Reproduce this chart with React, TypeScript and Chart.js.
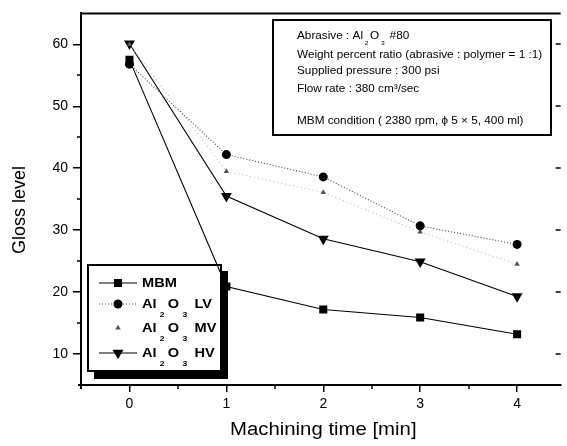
import React, { useEffect, useRef } from "react";
import { Chart, registerables } from "chart.js";

Chart.register(...registerables);

const FAM = '"Liberation Sans", Arial, Helvetica, sans-serif';

// ---- data ----
const times = [0, 1, 2, 3, 4];
const seriesNames = ["MBM", "Al₂O₃ LV", "Al₂O₃ MV", "Al₂O₃ HV"];
const mbm = [57.5, 20.9, 17.2, 15.9, 13.2];
const lv = [56.8, 42.2, 38.6, 30.7, 27.7];
const mv = [60.0, 39.5, 36.1, 29.7, 24.5];
const hv = [60.1, 35.5, 28.6, 24.9, 19.3];

const xTicks = [0, 1, 2, 3, 4];
const xMinorTicks = [0.5, 1.5, 2.5, 3.5];
const yTicks = [10, 20, 30, 40, 50, 60];
const yMinorTicks = [15, 25, 35, 45, 55];

const xTitle = "Machining time [min]";
const yTitle = "Gloss level";
const conditionLines = [
  "Abrasive : Al₂O₃ #80",
  "Weight percent ratio (abrasive : polymer = 1 :1)",
  "Supplied pressure : 300 psi",
  "Flow rate : 380 cm³/sec",
  "",
  "MBM condition ( 2380 rpm, ϕ 5 × 5, 400 ml)",
];

// ---- helpers ----
function drawRich(
  ctx: CanvasRenderingContext2D,
  text: string,
  x: number,
  y: number,
  font: string,
  subFont: string,
  subDy: number,
  subPad: number,
  sx: number
) {
  ctx.save();
  ctx.translate(x, y);
  ctx.scale(sx, 1);
  let cx = 0;
  let run = "";
  const flush = () => {
    if (!run) return;
    ctx.font = font;
    ctx.fillText(run, cx, 0);
    cx += ctx.measureText(run).width;
    run = "";
  };
  for (const ch of text) {
    if (ch === "₂" || ch === "₃") {
      flush();
      const d = ch === "₂" ? "2" : "3";
      ctx.font = subFont;
      cx += subPad;
      ctx.fillText(d, cx, subDy);
      cx += ctx.measureText(d).width + subPad;
    } else {
      run += ch;
    }
  }
  flush();
  ctx.restore();
}

function marker(ctx: CanvasRenderingContext2D, kind: string, x: number, y: number, r: number, color: string) {
  ctx.save();
  ctx.fillStyle = color;
  ctx.beginPath();
  const w = (r * Math.sqrt(3)) / 2;
  if (kind === "rect") {
    const s = r * Math.SQRT1_2;
    ctx.rect(x - s, y - s, 2 * s, 2 * s);
  } else if (kind === "circle") {
    ctx.arc(x, y, r, 0, Math.PI * 2);
  } else if (kind === "triangle") {
    ctx.moveTo(x, y - r);
    ctx.lineTo(x + w, y + r / 2);
    ctx.lineTo(x - w, y + r / 2);
    ctx.closePath();
  } else if (kind === "triangleDown") {
    ctx.moveTo(x, y + r);
    ctx.lineTo(x + w, y - r / 2);
    ctx.lineTo(x - w, y - r / 2);
    ctx.closePath();
  }
  ctx.fill();
  ctx.restore();
}

const styles = [
  { line: "#000", dash: [] as number[], lineShown: true, kind: "rect", r: 5.7, color: "#000" },
  { line: "#444", dash: [1, 2], lineShown: true, kind: "circle", r: 4.5, color: "#000" },
  { line: "#bbb", dash: [1, 3], lineShown: false, kind: "triangle", r: 3.2, color: "#555" },
  { line: "#000", dash: [] as number[], lineShown: true, kind: "triangleDown", r: 6.3, color: "#000" },
];

const decorPlugin = {
  id: "decor",
  beforeDatasetsDraw(chart: any) {
    const ctx: CanvasRenderingContext2D = chart.ctx;
    // legend box with drop shadow
    const bx = 88, by = 265, bw = 133, bh = 106;
    ctx.save();
    ctx.fillStyle = "#000";
    ctx.fillRect(bx + 6, by + 6, bw + 1, bh + 2);
    ctx.fillStyle = "#fff";
    ctx.fillRect(bx, by, bw, bh);
    ctx.strokeStyle = "#000";
    ctx.lineWidth = 2;
    ctx.strokeRect(bx, by, bw, bh);
    const rows = [283, 304, 328, 353];
    seriesNames.forEach((name, i) => {
      const st = styles[i];
      const yy = rows[i];
      if (st.lineShown) {
        ctx.save();
        ctx.strokeStyle = st.line;
        ctx.lineWidth = 1.2;
        ctx.setLineDash(st.dash);
        ctx.beginPath();
        ctx.moveTo(99, yy);
        ctx.lineTo(137, yy);
        ctx.stroke();
        ctx.restore();
      }
      marker(ctx, st.kind, 118, yy, st.r, st.color);
      ctx.fillStyle = "#000";
      ctx.textBaseline = "middle";
      ctx.textAlign = "left";
      drawRich(ctx, name, 142, yy, `bold 13.5px ${FAM}`, `bold 8px ${FAM}`, 11, 3, 1.08);
    });
    ctx.restore();
  },
  afterDatasetsDraw(chart: any) {
    const ctx: CanvasRenderingContext2D = chart.ctx;
    // condition box
    ctx.save();
    ctx.fillStyle = "#fff";
    ctx.fillRect(273, 20, 278, 115);
    ctx.strokeStyle = "#000";
    ctx.lineWidth = 2;
    ctx.strokeRect(273, 20, 278, 115);
    ctx.fillStyle = "#000";
    ctx.textBaseline = "middle";
    ctx.textAlign = "left";
    const ys = [36.5, 55.5, 71.5, 89, 105, 121.5];
    conditionLines.forEach((t, i) => {
      if (t) drawRich(ctx, t, 297, ys[i], `10.5px ${FAM}`, `6px ${FAM}`, 7, 1.5, 1.12);
    });
    ctx.restore();
  },
  afterDraw(chart: any) {
    const ctx: CanvasRenderingContext2D = chart.ctx;
    const a = chart.chartArea;
    const xs = chart.scales.x;
    const ysc = chart.scales.y;
    ctx.save();
    ctx.strokeStyle = "#000";
    // top frame line
    ctx.lineWidth = 2;
    ctx.beginPath();
    ctx.moveTo(a.left - 1, a.top);
    ctx.lineTo(a.right, a.top);
    ctx.stroke();
    // small axis extensions at the lower-left corner
    ctx.beginPath();
    ctx.moveTo(a.left, a.bottom);
    ctx.lineTo(a.left, a.bottom + 4);
    ctx.moveTo(a.left - 3, a.bottom);
    ctx.lineTo(a.left, a.bottom);
    ctx.stroke();
    ctx.lineWidth = 1.5;
    // minor x ticks
    xMinorTicks.forEach((v) => {
      const px = Math.round(xs.getPixelForValue(v));
      ctx.beginPath();
      ctx.moveTo(px, a.bottom);
      ctx.lineTo(px, a.bottom + 4);
      ctx.stroke();
    });
    // minor y ticks
    yMinorTicks.forEach((v) => {
      const py = Math.round(ysc.getPixelForValue(v));
      ctx.beginPath();
      ctx.moveTo(a.left - 4, py);
      ctx.lineTo(a.left, py);
      ctx.stroke();
    });
    // right axis inward ticks
    yTicks.forEach((v) => {
      const py = Math.round(ysc.getPixelForValue(v));
      ctx.beginPath();
      ctx.moveTo(a.right - 5, py);
      ctx.lineTo(a.right, py);
      ctx.stroke();
    });
    // axis titles
    ctx.fillStyle = "#000";
    ctx.font = `18px ${FAM}`;
    ctx.textAlign = "center";
    ctx.textBaseline = "middle";
    ctx.save();
    ctx.translate(xs.getPixelForValue(2), 430);
    ctx.scale(1.13, 1);
    ctx.fillText(xTitle, 0, 0);
    ctx.restore();
    ctx.translate(20, 210);
    ctx.rotate(-Math.PI / 2);
    ctx.fillText(yTitle, 0, 0);
    ctx.restore();
  },
};

export default function App() {
  const ref = useRef<HTMLCanvasElement | null>(null);
  useEffect(() => {
    if (!ref.current) return;
    const values = [mbm, lv, mv, hv];
    const chart = new Chart(ref.current, {
      type: "line",
      data: {
        datasets: values.map((vals, i) => {
          const st = styles[i];
          return {
            label: seriesNames[i],
            data: times.map((t, j) => ({ x: t, y: vals[j] })),
            borderColor: st.line,
            borderWidth: 1.1,
            borderDash: st.dash,
            showLine: true,
            pointStyle: st.kind === "triangleDown" ? "triangle" : st.kind,
            pointRotation: st.kind === "triangleDown" ? 180 : 0,
            pointRadius: st.r,
            pointBackgroundColor: st.color,
            pointBorderColor: st.color,
            pointBorderWidth: 0,
            tension: 0,
            fill: false,
          } as any;
        }),
      },
      options: {
        animation: false,
        responsive: false,
        maintainAspectRatio: false,
        layout: { padding: { top: 10, left: 0, right: 0, bottom: 0 } },
        plugins: { legend: { display: false }, tooltip: { enabled: false } },
        scales: {
          x: {
            type: "linear",
            min: -0.5,
            max: 4.45,
            afterBuildTicks: (s: any) => {
              s.ticks = xTicks.map((v) => ({ value: v }));
            },
            afterFit: (s: any) => {
              s.height = 61;
            },
            grid: { drawOnChartArea: false, drawTicks: true, tickLength: 7, color: "#000", lineWidth: 1.5 },
            border: { display: true, color: "#000", width: 2 },
            ticks: { color: "#000", font: { family: FAM, size: 14 }, padding: 4, maxRotation: 0, autoSkip: false },
          },
          y: {
            type: "linear",
            min: 5,
            max: 65,
            afterBuildTicks: (s: any) => {
              s.ticks = yTicks.map((v) => ({ value: v }));
            },
            afterFit: (s: any) => {
              s.width = 81;
            },
            grid: { drawOnChartArea: false, drawTicks: true, tickLength: 8, color: "#000", lineWidth: 1.5 },
            border: { display: true, color: "#000", width: 2 },
            ticks: { color: "#000", font: { family: FAM, size: 14 }, padding: 5, autoSkip: false },
          },
        },
      } as any,
      plugins: [decorPlugin],
    });
    return () => chart.destroy();
  }, []);
  return (
    <div style={{ position: "fixed", left: 0, top: 0, width: 567, height: 446, background: "#fff" }}>
      <canvas ref={ref} width={567} height={446} style={{ display: "block" }} />
    </div>
  );
}
